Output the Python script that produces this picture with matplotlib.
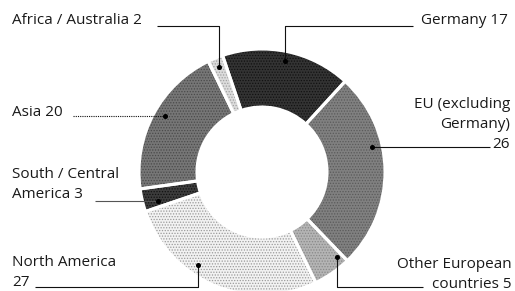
import matplotlib
matplotlib.use('Agg')
import matplotlib.pyplot as plt
from matplotlib.patches import Wedge
import numpy as np

# ---- data ----
regions = ["Germany", "EU (excluding Germany)", "Other European countries",
           "North America", "South / Central America", "Asia", "Africa / Australia"]
shares = [17, 26, 5, 27, 3, 20, 2]
label_texts = ["Germany 17", "EU (excluding\nGermany)\n26", "Other European\ncountries 5",
               "North America\n27", "South / Central\nAmerica 3", "Asia 20",
               "Africa / Australia 2"]

# ---- style ----
colors = ['#333333', '#808080', '#b4b4b4', '#f2f2f2', '#3c3c3c', '#767676', '#dcdcdc']
hatch_colors = ['#111111', '#5a5a5a', '#888888', '#9a9a9a', '#111111', '#4a4a4a', '#a0a0a0']
plt.rcParams['font.family'] = ['Open Sans', 'DejaVu Sans']
plt.rcParams['hatch.linewidth'] = 0.6
TXT = '#1a1a1a'

W, H = 515, 291
fig = plt.figure(figsize=(W / 100, H / 100), dpi=100)
ax = fig.add_axes([0, 0, 1, 1])

cx, cy = 262, 172          # pixel coords (y down)
R, r_in = 123, 65
start = 108.7

wedges, _ = ax.pie(shares, colors=colors, startangle=start, counterclock=False, radius=R,
                   center=(cx, H - cy),
                   wedgeprops=dict(width=R - r_in, edgecolor='none', linewidth=0))
# stipple texture + white separators
for w, hc in zip(wedges, hatch_colors):
    ax.add_patch(Wedge(w.center, w.r, w.theta1, w.theta2, width=w.width,
                       facecolor='none', edgecolor=hc, linewidth=0, hatch='......'))
for w in wedges:
    ax.add_patch(Wedge(w.center, w.r, w.theta1, w.theta2, width=w.width,
                       facecolor='none', edgecolor='white', linewidth=2.2))
ax.set_xlim(0, W)
ax.set_ylim(0, H)
ax.set_aspect('equal')
ax.axis('off')

# wedge angle ranges (clockwise)
total = float(sum(shares))
bounds = []
a = start
for v in shares:
    b = a - v / total * 360
    bounds.append((a, b))
    a = b

layout = [
    dict(frac=0.5, rd=113, tx=508, ty=20, ha='right', kind='elbow', ly=26, lx=413),
    dict(frac=0.37, rd=113, tx=510, ty=104, ha='right', kind='horiz', lx=490),
    dict(frac=0.13, rd=113, tx=512, ty=265, ha='right', kind='elbow', ly=287, lx=423),
    dict(frac=0.62, rd=113, tx=12, ty=263, ha='left', kind='elbow', ly=287, lx=35),
    dict(frac=0.29, rd=108, tx=12, ty=175, ha='left', kind='horiz', lx=95, lc='#555555'),
    dict(frac=0.53, rd=112, tx=12, ty=112, ha='left', kind='horiz', lx=73, ls=(0, (1, 1))),
    dict(frac=0.5, rd=113, tx=12, ty=20, ha='left', kind='elbow', ly=26, lx=157),
]

line_gap = 20
for (t1, t2), txt, L in zip(bounds, label_texts, layout):
    ang = np.deg2rad(t1 + L['frac'] * (t2 - t1))
    dx = cx + L['rd'] * np.cos(ang)
    dy = cy - L['rd'] * np.sin(ang)
    lc = L.get('lc', '#111111')
    ls = L.get('ls', '-')
    if L['kind'] == 'elbow':
        xs = [L['lx'], dx, dx]
        ys = [L['ly'], L['ly'], dy]
    else:
        xs = [L['lx'], dx]
        ys = [dy, dy]
    ax.plot(xs, [H - y for y in ys], color=lc, lw=0.8, ls=ls, solid_capstyle='butt')
    ax.plot([dx], [H - dy], 'o', color='black', ms=2.6)
    for i, line in enumerate(txt.split('\n')):
        ax.text(L['tx'], H - (L['ty'] + i * line_gap), line, ha=L['ha'], va='center',
                fontsize=11, color=TXT)

fig.savefig('out.png', dpi=100)
